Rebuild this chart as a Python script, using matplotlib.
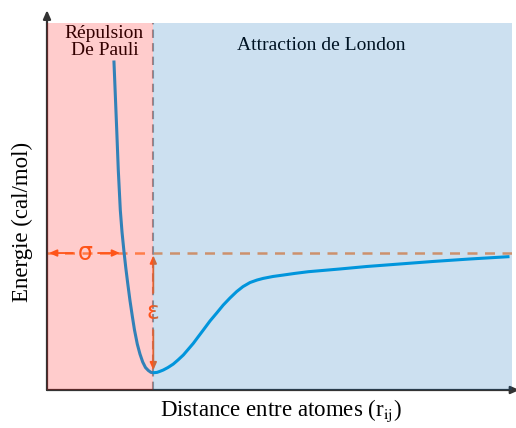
import numpy as np
import matplotlib
matplotlib.use('Agg')
import matplotlib.pyplot as plt

# potential curve (x in units of sigma, y in units of epsilon)
r_vals = [0.899, 0.917, 0.936, 0.957, 0.984, 1.007, 1.034, 1.058, 1.083, 1.114,
          1.145, 1.174, 1.212, 1.248, 1.285, 1.322, 1.360, 1.396, 1.427, 1.477,
          1.517, 1.561, 1.624, 1.695, 1.758, 1.830, 1.893, 1.964, 2.027, 2.098,
          2.188, 2.278, 2.366, 2.456, 2.546, 2.631, 2.725, 2.819, 2.903, 3.034,
          3.172, 3.329, 3.507, 3.933, 4.295, 4.738, 5.181, 5.678, 6.188]
e_vals = [1.605, 1.328, 1.034, 0.697, 0.361, 0.176, 0.008, -0.126, -0.252, -0.400,
          -0.530, -0.645, -0.765, -0.849, -0.916, -0.962, -0.987, -1.003, -1.006, -1.003,
          -0.994, -0.983, -0.962, -0.933, -0.899, -0.857, -0.811, -0.759, -0.706, -0.647,
          -0.571, -0.504, -0.437, -0.378, -0.324, -0.282, -0.248, -0.227, -0.213, -0.197,
          -0.185, -0.171, -0.157, -0.134, -0.113, -0.092, -0.071, -0.050, -0.031]

r_min = 1.427
sigma = 0.980
x_max = 6.242
y_lim = (-1.151, 1.933)

region_labels = ['Répulsion\nDe Pauli', 'Attraction de London']
xlabel = 'Distance entre atomes (r$_{\\mathrm{ij}}$)'
ylabel = 'Energie (cal/mol)'

plt.rcParams['font.family'] = 'Liberation Serif'
plt.rcParams['mathtext.fontset'] = 'stix'

fig = plt.figure(figsize=(5.16, 4.28), dpi=100)
ax = fig.add_axes([47/516, 38/428, 465/516, 367/428])
ax.set_xlim(0, x_max)
ax.set_ylim(*y_lim)

# curve and guides
ax.plot(r_vals, e_vals, color='#00a2e6', lw=2.2, zorder=3, solid_joinstyle='round')
ax.axhline(0, color='#ff9d5c', lw=1.8, ls=(0, (4, 3)), zorder=2)
ax.axvline(r_min, color='#9a9a9a', lw=1.5, ls=(0, (4, 2.5)), zorder=2)

arr = dict(arrowstyle='-|>,head_length=0.45,head_width=0.2', color='#ff6a20',
           lw=1.3, shrinkA=0, shrinkB=0)
# sigma
sig_x = 0.51
ax.text(sig_x, 0, 'σ', color='#ff6a20', fontsize=17, ha='center', va='center',
        family='DejaVu Sans', zorder=5)
ax.annotate('', xy=(0.027, 0), xytext=(0.349, 0), arrowprops=arr, zorder=5)
ax.annotate('', xy=(sigma, 0), xytext=(0.685, 0), arrowprops=arr, zorder=5)
# epsilon
eps_y = -0.496
ax.text(r_min, eps_y, 'ε', color='#ff6a20', fontsize=17, ha='center', va='center',
        family='DejaVu Sans', zorder=5)
ax.annotate('', xy=(r_min, -0.02), xytext=(r_min, -0.336), arrowprops=arr, zorder=5)
ax.annotate('', xy=(r_min, -0.985), xytext=(r_min, -0.647), arrowprops=arr, zorder=5)

# region labels
ax.text(0.77, 1.92, region_labels[0], ha='center', va='top', fontsize=14,
        color='black', linespacing=1.0, zorder=5)
ax.text(3.678, 1.748, region_labels[1], ha='center', va='center', fontsize=14,
        color='black', zorder=5)

# tinted overlays on top of everything
ax.axvspan(0, r_min, color='#ff0000', alpha=0.2, lw=0, zorder=10)
ax.axvspan(r_min, x_max, color='#0064b4', alpha=0.2, lw=0, zorder=10)

# axes with arrows
for s in ['top', 'right', 'left', 'bottom']:
    ax.spines[s].set_visible(False)
ax.set_xticks([])
ax.set_yticks([])
ax.annotate('', xy=(0, 1.035), xytext=(0, 0), xycoords='axes fraction',
            arrowprops=dict(arrowstyle='-|>,head_length=0.5,head_width=0.22',
                            color='#333333', lw=1.6, shrinkA=0, shrinkB=0), annotation_clip=False)
ax.annotate('', xy=(1.016, 0), xytext=(0, 0), xycoords='axes fraction',
            arrowprops=dict(arrowstyle='-|>,head_length=0.5,head_width=0.22',
                            color='#333333', lw=1.6, shrinkA=0, shrinkB=0), annotation_clip=False)

fig.text(22/516, 1 - 222/428, ylabel, rotation=90, ha='center', va='center', fontsize=16.5)
fig.text(281/516, 1 - 411/428, xlabel, ha='center', va='center', fontsize=16.5)

fig.savefig('out.png', dpi=100)
